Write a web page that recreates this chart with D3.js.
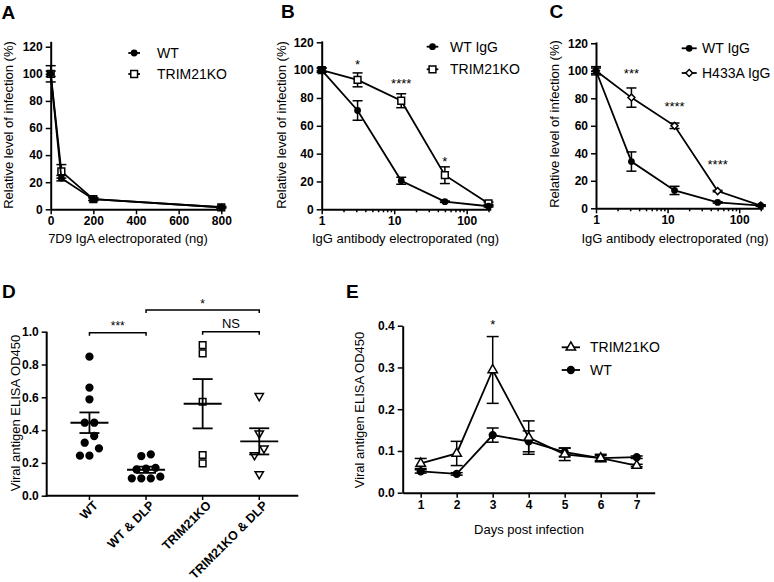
<!DOCTYPE html>
<html>
<head>
<meta charset="utf-8">
<script src="https://cdn.jsdelivr.net/npm/d3@7"></script>
<style>
  body { margin: 0; background: #fff; }
  svg { font-family: "Liberation Sans", Arial, Helvetica, sans-serif; }
</style>
</head>
<body>
<svg id="fig" width="774" height="582"></svg>
<script>
/* DATA */
// A - IgA dose (ng) vs relative infection (%)
const aDose = [0, 50, 200, 800];
const aWT = [100, 23, 7.5, 1.5];
const aWTErr = [6, 2, 1, 0.5];
const aKO = [100, 28, 7.5, 1.5];
const aKOErr = [2, 5, 1, 0.5];

// B - IgG dose (ng), WT vs TRIM21KO cells
const bDose = [1, 3.125, 12.5, 50, 200];
const bWT = [100, 71, 20.5, 5.5, 2.2];
const bWTErr = [1.5, 7, 2.5, 0.5, 0.5];
const bKO = [100, 93, 78, 24.5, 4.2];
const bKOErr = [1.5, 5, 5, 6, 1];
const bStars = ["*", "****", "*"];
const bStarDose = [3.125, 12.5, 50];
const bStarLevel = [101, 87, 31];

// C - WT IgG vs H433A IgG
const cDose = [1, 3.125, 12.5, 50, 200];
const cWT = [100, 34, 13, 4.3, 1.9];
const cWTErr = [3, 7, 3, 0.5, 0.5];
const cMut = [100, 80.5, 60, 12.5, 2];
const cMutErr = [2, 7, 2, 0.5, 0.5];
const cStars = ["***", "****", "****"];
const cStarDose = [3.125, 12.5, 50];
const cStarLevel = [95, 71, 28.5];

const infTicks = [0, 20, 40, 60, 80, 100, 120];

// D - viral antigen ELISA per mouse
const dGroups = ["WT", "WT & DLP", "TRIM21KO", "TRIM21KO & DLP"];
const dWT = [0.848, 0.659, 0.588, 0.445, 0.445, 0.364, 0.323, 0.289, 0.244, 0.244];
const dWTDLP = [0.252, 0.242, 0.17, 0.165, 0.16, 0.116, 0.106, 0.106, 0.106];
const dKO = [0.918, 0.868, 0.573, 0.248, 0.197];
const dKODLP = [0.608, 0.38, 0.289, 0.248, 0.132];
const dTicks = [0, 0.2, 0.4, 0.6, 0.8, 1.0];

// E - time course
const eDays = [1, 2, 3, 4, 5, 6, 7];
const eKO = [0.07, 0.094, 0.294, 0.132, 0.092, 0.083, 0.065];
const eKOErr = [0.012, 0.029, 0.08, 0.04, 0.015, 0.009, 0.003];
const eWT = [0.051, 0.045, 0.138, 0.123, 0.097, 0.083, 0.085];
const eWTErr = [0.004, 0.003, 0.017, 0.025, 0.01, 0.006, 0.003];
const eTicks = [0, 0.1, 0.2, 0.3, 0.4];

/* SETUP */
const svg = d3.select("#fig");
const LW = 1.8;

const SYM = {
  dot:     { type: d3.symbolCircle,   size: 22, fill: "#000", rot: 0 },
  square:  { type: d3.symbolSquare,   size: 46, fill: "#fff", rot: 0 },
  diamond: { type: d3.symbolSquare,   size: 24, fill: "#fff", rot: 45 },
  bigDot:  { type: d3.symbolCircle,   size: 36, fill: "#000", rot: 0 },
  triUp:   { type: d3.symbolTriangle, size: 38, fill: "#fff", rot: 0 },
  triDown: { type: d3.symbolTriangle, size: 30, fill: "#fff", rot: 180 },
  sq2:     { type: d3.symbolSquare,   size: 44, fill: "#fff", rot: 0 }
};

const symbolAt = (g, sym, cx, cy) =>
  g.append("path")
    .attr("d", d3.symbol(sym.type, sym.size)())
    .attr("transform", `translate(${cx},${cy}) rotate(${sym.rot})`)
    .attr("fill", sym.fill)
    .attr("stroke", "#000")
    .attr("stroke-width", 1.5);

const styleAxis = (g) => {
  g.attr("font-family", null).attr("font-size", null);
  g.select(".domain").attr("stroke-width", 2).attr("stroke", "#000");
  g.selectAll(".tick line").attr("stroke-width", 1.5).attr("stroke", "#000");
  g.selectAll(".tick text")
    .attr("font-size", 12).attr("font-weight", "bold").attr("fill", "#000");
};

const yTitle = (text, x, cy) =>
  svg.append("text")
    .attr("transform", `translate(${x},${cy}) rotate(-90)`)
    .attr("text-anchor", "middle").attr("font-size", 13).text(text);

const xTitle = (text, cx, y) =>
  svg.append("text").attr("x", cx).attr("y", y)
    .attr("text-anchor", "middle").attr("font-size", 13).text(text);

const panelLetter = (t, x, y) =>
  svg.append("text").attr("x", x).attr("y", y)
    .attr("font-size", 19).attr("font-weight", "bold").text(t);

const drawSeries = (g, x, y, xs, ys, errs, sym, cap) => {
  g.append("path")
    .datum(ys)
    .attr("d", d3.line().x((d, i) => x(xs[i])).y(d => y(d)))
    .attr("fill", "none").attr("stroke", "#000").attr("stroke-width", LW);

  const eb = g.append("g").attr("stroke", "#000").attr("stroke-width", 1.5);
  ys.forEach((v, i) => {
    const e = errs[i];
    const cx = x(xs[i]);
    eb.append("line").attr("x1", cx).attr("x2", cx).attr("y1", y(v - e)).attr("y2", y(v + e));
    [v - e, v + e].forEach(b =>
      eb.append("line").attr("x1", cx - cap).attr("x2", cx + cap).attr("y1", y(b)).attr("y2", y(b)));
  });
  ys.forEach((v, i) => symbolAt(g, sym, x(xs[i]), y(v)));
};

const legend = (items, x0, x1, tx, ys) => {
  items.forEach((it, i) => {
    svg.append("line").attr("x1", x0).attr("x2", x1).attr("y1", ys[i]).attr("y2", ys[i])
      .attr("stroke", "#000").attr("stroke-width", LW);
    symbolAt(svg, it.sym, (x0 + x1) / 2, ys[i]);
    svg.append("text").attr("x", tx).attr("y", ys[i]).attr("dy", "0.36em")
      .attr("font-size", 14).text(it.label);
  });
};

const logTicks = [1,2,3,4,5,6,7,8,9,10,20,30,40,50,60,70,80,90,100,200];
const majors = [1, 10, 100];

const logAxis = (x, yPos) => {
  const g = svg.append("g").attr("transform", `translate(0,${yPos})`)
    .call(d3.axisBottom(x).tickValues(logTicks)
      .tickFormat(d => majors.includes(d) ? d : "")
      .tickSize(5).tickPadding(2.5).tickSizeOuter(0));
  styleAxis(g);
  g.selectAll(".tick").filter(d => !majors.includes(d)).select("line").attr("y2", 3);
};

/* PANEL A */
{
  const x = d3.scaleLinear().domain([0, 800]).range([50.7, 221.3]);
  const y = d3.scaleLinear().domain([0, 124]).range([209.3, 41.3]);
  const gy = svg.append("g").attr("transform", "translate(50.7,0)")
    .call(d3.axisLeft(y).tickValues(infTicks).tickSize(5).tickPadding(3).tickSizeOuter(0));
  styleAxis(gy);
  const gx = svg.append("g").attr("transform", "translate(0,209.3)")
    .call(d3.axisBottom(x).tickValues([0, 200, 400, 600, 800]).tickSize(5).tickPadding(2.5).tickSizeOuter(0));
  styleAxis(gx);
  const g = svg.append("g");
  drawSeries(g, x, y, aDose, aKO, aKOErr, SYM.square, 5);
  drawSeries(g, x, y, aDose, aWT, aWTErr, SYM.dot, 5);
  legend([{ label: "WT", sym: SYM.dot }, { label: "TRIM21KO", sym: SYM.square }], 128.3, 140, 157, [53, 74]);
  yTitle("Relative level of infection (%)", 12.5, 125);
  xTitle("7D9 IgA electroporated (ng)", 128, 243);
  panelLetter("A", 1.5, 18.5);
}

/* PANEL B */
{
  const x = d3.scaleLog().domain([1, 215]).range([321.7, 490.8]);
  const y = d3.scaleLinear().domain([0, 121]).range([209.3, 40.9]);
  const gy = svg.append("g").attr("transform", "translate(321.7,0)")
    .call(d3.axisLeft(y).tickValues(infTicks).tickSize(5).tickPadding(3).tickSizeOuter(0));
  styleAxis(gy);
  logAxis(x, 209.3);
  const g = svg.append("g");
  drawSeries(g, x, y, bDose, bKO, bKOErr, SYM.square, 5);
  drawSeries(g, x, y, bDose, bWT, bWTErr, SYM.dot, 5);
  bStars.forEach((s, i) =>
    svg.append("text").attr("x", x(bStarDose[i])).attr("y", y(bStarLevel[i]))
      .attr("text-anchor", "middle").attr("font-size", 13).text(s));
  legend([{ label: "WT IgG", sym: SYM.dot }, { label: "TRIM21KO", sym: SYM.square }], 426.7, 438.3, 450, [46.7, 69.3]);
  yTitle("Relative level of infection (%)", 285.7, 125);
  xTitle("IgG antibody electroporated (ng)", 405.5, 243);
  panelLetter("B", 281, 18);
}

/* PANEL C */
{
  const x = d3.scaleLog().domain([1, 215]).range([596, 763]);
  const y = d3.scaleLinear().domain([0, 121]).range([208.3, 41.9]);
  const gy = svg.append("g").attr("transform", "translate(596,0)")
    .call(d3.axisLeft(y).tickValues(infTicks).tickSize(5).tickPadding(3).tickSizeOuter(0));
  styleAxis(gy);
  logAxis(x, 208.3);
  const g = svg.append("g");
  drawSeries(g, x, y, cDose, cMut, cMutErr, SYM.diamond, 5);
  drawSeries(g, x, y, cDose, cWT, cWTErr, SYM.dot, 5);
  cStars.forEach((s, i) =>
    svg.append("text").attr("x", x(cStarDose[i])).attr("y", y(cStarLevel[i]))
      .attr("text-anchor", "middle").attr("font-size", 13).text(s));
  legend([{ label: "WT IgG", sym: SYM.dot }, { label: "H433A IgG", sym: SYM.diamond }], 681.7, 696.7, 702, [48.3, 73]);
  yTitle("Relative level of infection (%)", 559, 124);
  xTitle("IgG antibody electroporated (ng)", 675, 243);
  panelLetter("C", 549.5, 18);
}

/* PANEL D */
{
  const groups = [
    { values: dWT, sym: SYM.bigDot },
    { values: dWTDLP, sym: SYM.bigDot },
    { values: dKO, sym: SYM.sq2 },
    { values: dKODLP, sym: SYM.triDown }
  ];
  const x = d3.scalePoint().domain(dGroups).range([47, 301.7]).padding(0.75);
  const y = d3.scaleLinear().domain([0, 1]).range([495.7, 331.7]);
  const gy = svg.append("g").attr("transform", "translate(46.7,0)")
    .call(d3.axisLeft(y).tickValues(dTicks).tickFormat(d3.format(".1f"))
      .tickSize(5).tickPadding(3).tickSizeOuter(0));
  styleAxis(gy);
  gy.select(".domain").attr("d", `M0,${y(1)}V${y(0) + 1}`);

  svg.append("line").attr("x1", 45.7).attr("x2", 298.3).attr("y1", 495.7).attr("y2", 495.7)
    .attr("stroke", "#000").attr("stroke-width", 2);
  dGroups.forEach(name => {
    const cx = x(name);
    svg.append("line").attr("x1", cx).attr("x2", cx).attr("y1", 495.7).attr("y2", 500)
      .attr("stroke", "#000").attr("stroke-width", 1.5);
    svg.append("text")
      .attr("transform", `translate(${cx + 6},${503}) rotate(-45)`)
      .attr("text-anchor", "end").attr("dy", "0.36em")
      .attr("font-size", 12.5).attr("font-weight", "bold").text(name);
  });

  // scatter: rows of near-equal values are spread symmetrically
  const spread = (vals) => {
    const sorted = vals.slice().sort((a, b) => a - b);
    const out = [];
    let row = [];
    const flush = () => {
      row.forEach((v, k) => out.push({ v, dx: (k - (row.length - 1) / 2) * 9.5 }));
      row = [];
    };
    sorted.forEach(v => {
      if (row.length && (y(row[0]) - y(v)) >= 8) flush();
      row.push(v);
    });
    flush();
    return out;
  };

  groups.forEach((grp, gi) => {
    const cx = x(dGroups[gi]);
    spread(grp.values).forEach(p => symbolAt(svg, grp.sym, cx + p.dx, y(p.v)));
    const n = grp.values.length;
    const m = d3.mean(grp.values);
    const sem = d3.deviation(grp.values) / Math.sqrt(n);
    const g = svg.append("g").attr("stroke", "#000").attr("stroke-width", 1.8);
    g.append("line").attr("x1", cx - 19).attr("x2", cx + 19).attr("y1", y(m)).attr("y2", y(m));
    g.append("line").attr("x1", cx).attr("x2", cx).attr("y1", y(m - sem)).attr("y2", y(m + sem));
    [m - sem, m + sem].forEach(b =>
      g.append("line").attr("x1", cx - 10).attr("x2", cx + 10).attr("y1", y(b)).attr("y2", y(b)));
  });

  // significance brackets
  const bracket = (a, b, yy, label, size, ty) => {
    svg.append("path")
      .attr("d", `M${x(a)},${yy + 3}V${yy}H${x(b)}V${yy + 3}`)
      .attr("fill", "none").attr("stroke", "#000").attr("stroke-width", 1.5);
    svg.append("text").attr("x", (x(a) + x(b)) / 2).attr("y", ty)
      .attr("text-anchor", "middle").attr("font-size", size).text(label);
  };
  bracket("WT", "WT & DLP", 332.7, "***", 12, 330);
  bracket("WT & DLP", "TRIM21KO & DLP", 310, "*", 12, 307.5);
  bracket("TRIM21KO", "TRIM21KO & DLP", 331.7, "NS", 13, 327.5);

  yTitle("Viral antigen ELISA OD450", 19.5, 413);
  panelLetter("D", 2, 298);
}

/* PANEL E */
{
  const x = d3.scaleLinear().domain([0.5, 7.5]).range([402.7, 654.7]);
  const y = d3.scaleLinear().domain([0, 0.4]).range([492.7, 325.7]);
  const gy = svg.append("g").attr("transform", "translate(402.7,0)")
    .call(d3.axisLeft(y).tickValues(eTicks).tickFormat(d3.format(".1f"))
      .tickSize(5).tickPadding(3).tickSizeOuter(0));
  styleAxis(gy);
  const gx = svg.append("g").attr("transform", "translate(0,492.7)")
    .call(d3.axisBottom(x).tickValues(eDays).tickFormat(d3.format("d"))
      .tickSize(5).tickPadding(2.5).tickSizeOuter(0));
  styleAxis(gx);
  const g = svg.append("g");
  drawSeries(g, x, y, eDays, eWT, eWTErr, SYM.bigDot, 6);
  drawSeries(g, x, y, eDays, eKO, eKOErr, SYM.triUp, 6);
  svg.append("text").attr("x", x(3)).attr("y", y(0.393))
    .attr("text-anchor", "middle").attr("font-size", 13).text("*");
  legend([{ label: "TRIM21KO", sym: SYM.triUp }, { label: "WT", sym: SYM.bigDot }], 561.7, 580, 590, [347.3, 370]);
  yTitle("Viral antigen ELISA OD450", 364, 410);
  xTitle("Days post infection", 529, 533.5);
  panelLetter("E", 346, 298);
}
</script>
</body>
</html>
